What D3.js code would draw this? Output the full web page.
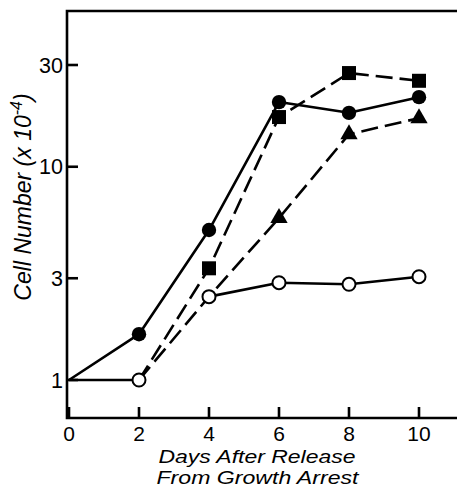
<!DOCTYPE html>
<html>
<head>
<meta charset="utf-8">
<script src="https://cdn.jsdelivr.net/npm/d3@7"></script>
<style>
  html, body { margin: 0; padding: 0; background: #fff; }
  svg { display: block; }
  text { font-family: "Liberation Sans", Arial, sans-serif; fill: #000; }
</style>
</head>
<body>
<svg id="chart" width="457" height="488"></svg>
<script>
// ---- data ----
const xTicks = [0, 2, 4, 6, 8, 10];
const yTicks = [1, 3, 10, 30];
const daysCircleFilled = [0, 2, 4, 6, 8, 10];
const circleFilled = [1, 1.64, 5.05, 20.1, 17.9, 21.2];
const daysSquare = [2, 4, 6, 8, 10];
const squareFilled = [1, 3.34, 17.1, 27.5, 25.3];
const daysTriangle = [2, 4, 6, 8, 10];
const triangleFilled = [1, 2.46, 5.75, 14.2, 16.9];
const daysCircleOpen = [0, 2, 4, 6, 8, 10];
const circleOpen = [1, 1, 2.46, 2.86, 2.81, 3.05];

const W = 457, H = 488;
const svg = d3.select("#chart");

const x = d3.scaleLinear().domain([0, 10]).range([69, 419]);
const y = d3.scaleLog().domain([1, 30]).range([380, 65]);

const fLeft = 67, fTop = 11, fBottom = 418, fRight = W;
const lw = 2.6;

// frame
svg.append("path")
  .attr("d", `M${fRight},${fTop}H${fLeft}V${fBottom}H${fRight}`)
  .attr("stroke", "#000").attr("stroke-width", lw).attr("fill", "none")
  .attr("stroke-linecap", "square");

// x ticks (inward)
const xAxis = svg.append("g");
xAxis.selectAll("line").data(xTicks).join("line")
  .attr("x1", d => x(d)).attr("x2", d => x(d))
  .attr("y1", fBottom).attr("y2", fBottom - 11)
  .attr("stroke", "#000").attr("stroke-width", lw);
xAxis.selectAll("text").data(xTicks).join("text")
  .attr("x", d => x(d)).attr("y", fBottom + 22.5)
  .attr("text-anchor", "middle").attr("font-size", 21)
  .text(d => d);

// y ticks (inward)
const yAxis = svg.append("g");
yAxis.selectAll("line").data(yTicks).join("line")
  .attr("x1", fLeft).attr("x2", fLeft + 11)
  .attr("y1", d => y(d)).attr("y2", d => y(d))
  .attr("stroke", "#000").attr("stroke-width", lw);
yAxis.selectAll("text").data(yTicks).join("text")
  .attr("x", fLeft - 4).attr("y", d => y(d) + 7.5)
  .attr("text-anchor", "end").attr("font-size", 21.5)
  .text(d => d);

// axis titles
const ylab = svg.append("text")
  .attr("transform", "translate(31,197) rotate(-90)")
  .attr("text-anchor", "middle").attr("font-size", 23).attr("font-style", "italic");
ylab.append("tspan").text("Cell Number (x 10");
ylab.append("tspan").attr("font-size", 16).attr("dy", -9).text("-4");
ylab.append("tspan").attr("dy", 9).text(")");

svg.append("text").attr("x", 257).attr("y", 463).attr("text-anchor", "middle")
  .attr("font-size", 19).attr("font-style", "italic")
  .attr("textLength", 197).attr("lengthAdjust", "spacingAndGlyphs")
  .text("Days After Release");
svg.append("text").attr("x", 257.5).attr("y", 484).attr("text-anchor", "middle")
  .attr("font-size", 19).attr("font-style", "italic")
  .attr("textLength", 202).attr("lengthAdjust", "spacingAndGlyphs")
  .text("From Growth Arrest");

// lines
const line = d3.line().x(d => x(d[0])).y(d => y(d[1]));
const zipper = (a, b) => a.map((d, i) => [d, b[i]]);

const dash = "17,7";
// dashed series
[[daysTriangle, triangleFilled], [daysSquare, squareFilled]].forEach(([dd, vv]) => {
  svg.append("path").datum(zipper(dd, vv))
    .attr("d", line).attr("fill", "none").attr("stroke", "#000")
    .attr("stroke-width", lw).attr("stroke-dasharray", dash)
    .attr("stroke-linejoin", "round");
});
// open circles: solid except the day 2 -> 4 stretch (drawn dashed by the shared series)
const openPts = zipper(daysCircleOpen, circleOpen);
[openPts.filter(d => d[0] <= 2), openPts.filter(d => d[0] >= 4)].forEach(seg => {
  svg.append("path").datum(seg)
    .attr("d", line).attr("fill", "none").attr("stroke", "#000")
    .attr("stroke-width", lw).attr("stroke-linejoin", "round");
});
// filled circles solid
svg.append("path").datum(zipper(daysCircleFilled, circleFilled))
  .attr("d", line).attr("fill", "none").attr("stroke", "#000")
  .attr("stroke-width", lw).attr("stroke-linejoin", "round");

// markers
const triSym = d3.symbol().type(d3.symbolTriangle).size(130);
svg.append("g").selectAll("path")
  .data(zipper(daysTriangle, triangleFilled).filter(d => d[0] > 4)).join("path")
  .attr("transform", d => `translate(${x(d[0])},${y(d[1])})`)
  .attr("d", triSym).attr("fill", "#000");
svg.append("g").selectAll("rect")
  .data(zipper(daysSquare, squareFilled).filter(d => d[0] > 2)).join("rect")
  .attr("x", d => x(d[0]) - 7).attr("y", d => y(d[1]) - 7)
  .attr("width", 14).attr("height", 14).attr("fill", "#000");
svg.append("g").selectAll("circle")
  .data(zipper(daysCircleFilled, circleFilled).filter(d => d[0] > 0)).join("circle")
  .attr("cx", d => x(d[0])).attr("cy", d => y(d[1])).attr("r", 7.2).attr("fill", "#000");
svg.append("g").selectAll("circle")
  .data(openPts.filter(d => d[0] > 0)).join("circle")
  .attr("cx", d => x(d[0])).attr("cy", d => y(d[1])).attr("r", 6.5)
  .attr("fill", "#fff").attr("stroke", "#000").attr("stroke-width", 2);
</script>
</body>
</html>
